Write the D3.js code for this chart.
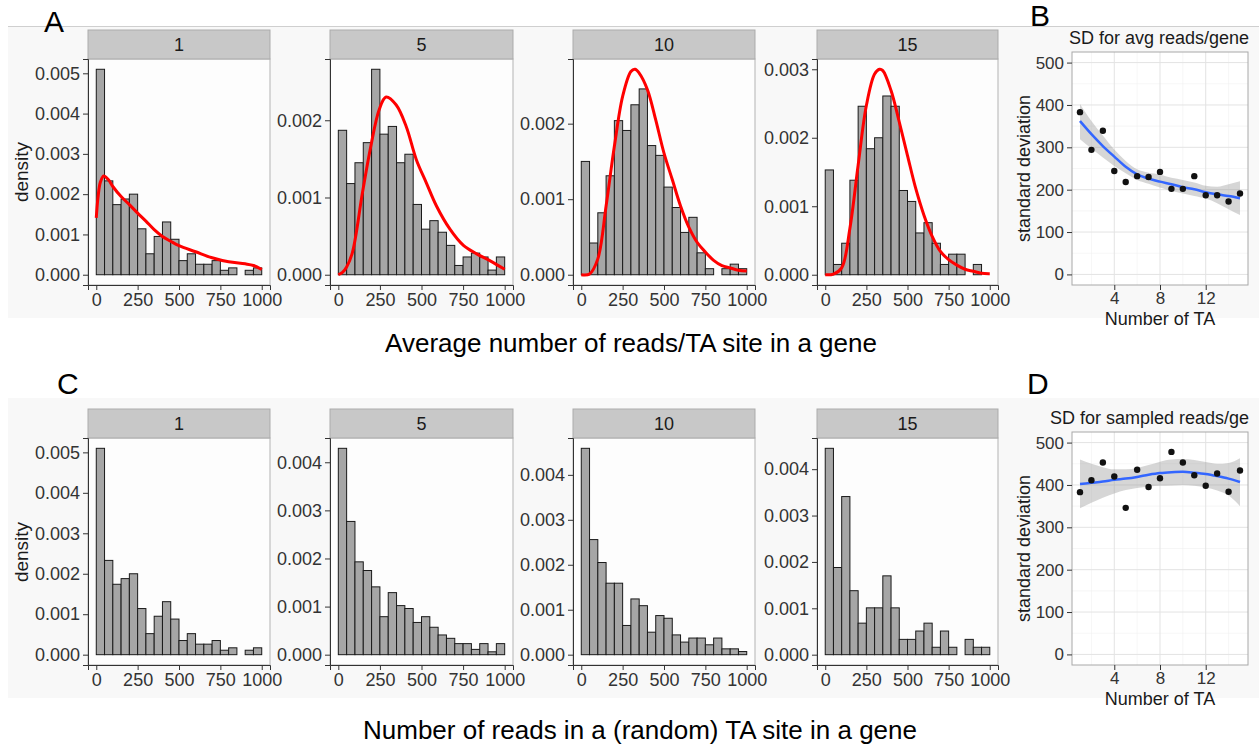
<!DOCTYPE html>
<html>
<head>
<meta charset="utf-8">
<script src="https://cdn.jsdelivr.net/npm/d3@7"></script>
<style>
  body { margin: 0; background: #fff; }
  text { font-family: "Liberation Sans", Arial, sans-serif; }
</style>
</head>
<body>
<script>
// histogram bins (left edge of each 50-wide bin) and facet labels
var binStart = [0, 50, 100, 150, 200, 250, 300, 350, 400, 450, 500, 550, 600, 650, 700, 750, 800, 850, 900, 950];
var facetLabels = ["1", "5", "10", "15"];
var xTicks = [0, 250, 500, 750, 1000];

// A: average reads / TA site, densities per bin
var avg1 = [0.0051, 0.00233, 0.00174, 0.00188, 0.0020, 0.00114, 0.00052, 0.00095, 0.00131, 0.00088, 0.00035, 0.00052, 0.00026, 0.00026, 0.00035, 0.00011, 0.00017, 0, 0.00011, 0.00017];
var avg5 = [0.00187, 0.00118, 0.00145, 0.00171, 0.00266, 0.00182, 0.00192, 0.00145, 0.00156, 0.00091, 0.00059, 0.00070, 0.00055, 0.00038, 0.00012, 0.00023, 0.00028, 0.00023, 0.00006, 0.00023];
var avg10 = [0.00150, 0.00042, 0.00082, 0.00131, 0.00204, 0.00191, 0.00225, 0.00246, 0.00171, 0.00158, 0.00116, 0.00089, 0.00056, 0.00076, 0.00029, 0.00008, 0, 0.00008, 0.00014, 0.00008];
var avg15 = [0.00153, 0.00015, 0.00046, 0.00138, 0.00246, 0.00184, 0.00200, 0.00261, 0.00246, 0.00123, 0.00107, 0.00061, 0.00076, 0.00046, 0.00015, 0.00030, 0.00030, 0, 0.00015, 0];

// red fitted density curves
var fit1X = [0, 10, 25, 45, 75, 100, 150, 200, 250, 300, 350, 400, 450, 500, 600, 700, 800, 900, 950, 1000];
var fit1Y = [0.00141, 0.0019, 0.0023, 0.00245, 0.00235, 0.00219, 0.00194, 0.00174, 0.00153, 0.00133, 0.00112, 0.00095, 0.00083, 0.00072, 0.00057, 0.00042, 0.00032, 0.00027, 0.00023, 0.00013];
var fit5X = [0, 25, 50, 85, 145, 196, 246, 287, 347, 408, 469, 529, 590, 671, 752, 832, 913, 1000];
var fit5Y = [0, 0.00003, 0.0001, 0.00029, 0.00106, 0.00167, 0.00214, 0.0023, 0.0022, 0.00192, 0.00149, 0.00119, 0.00089, 0.00059, 0.00038, 0.00027, 0.00018, 0.00007];
var fit10X = [0, 50, 100, 150, 200, 250, 300, 325, 350, 400, 450, 500, 550, 600, 650, 700, 750, 800, 850, 900, 950, 1000];
var fit10Y = [0, 0.00001, 0.00021, 0.00091, 0.0017, 0.00236, 0.00269, 0.00272, 0.00267, 0.00245, 0.00205, 0.00161, 0.00126, 0.00091, 0.00063, 0.00043, 0.0003, 0.00019, 0.00012, 0.00009, 0.00006, 0.00005];
var fit15X = [0, 50, 100, 150, 200, 250, 300, 330, 350, 400, 450, 500, 550, 600, 650, 700, 750, 800, 850, 900, 950, 1000];
var fit15Y = [0, 0.00001, 0.0001, 0.00068, 0.0016, 0.00247, 0.00293, 0.0030, 0.00298, 0.00269, 0.00223, 0.00174, 0.00126, 0.00087, 0.00056, 0.00034, 0.00022, 0.00014, 0.00008, 0.00005, 0.00002, 0.000015];

// C: reads in a random TA site
var samp1 = [0.0051, 0.00233, 0.00174, 0.00188, 0.0020, 0.00114, 0.00052, 0.00095, 0.00131, 0.00088, 0.00035, 0.00052, 0.00026, 0.00026, 0.00035, 0.00011, 0.00017, 0, 0.00011, 0.00017];
var samp5 = [0.00429, 0.00277, 0.00193, 0.00175, 0.00141, 0.00079, 0.00129, 0.00102, 0.00096, 0.00067, 0.00079, 0.00057, 0.00041, 0.00034, 0.00023, 0.00023, 0.00011, 0.00023, 0.00006, 0.00023];
var samp10 = [0.00459, 0.00256, 0.00205, 0.00159, 0.00159, 0.00065, 0.00124, 0.00109, 0.00050, 0.00087, 0.00081, 0.00044, 0.00028, 0.00037, 0.00037, 0.00022, 0.00037, 0.00013, 0.00013, 0.00007];
var samp15 = [0.00445, 0.00188, 0.00341, 0.00138, 0.00068, 0.00101, 0.00101, 0.00170, 0.00101, 0.00033, 0.00033, 0.00051, 0.00068, 0.00016, 0.00051, 0.00016, 0, 0.00033, 0.00016, 0.00016];

// B / D: standard deviation vs number of TA sites, with loess fit and band
var taCount = [1, 2, 3, 4, 5, 6, 7, 8, 9, 10, 11, 12, 13, 14, 15];
var sdAvg = [383, 294, 339, 244, 218, 232, 230, 242, 202, 202, 232, 187, 187, 172, 191];
var fitAvg = [362, 331, 303, 278, 254, 236, 226, 219, 213, 206, 201, 194, 189, 185, 180];
var hiAvg = [402, 362, 328, 295, 268, 248, 240, 236, 228, 223, 217, 209, 207, 213, 220];
var loAvg = [319, 297, 276, 256, 239, 223, 214, 205, 197, 191, 185, 179, 168, 154, 140];
var sdSamp = [383, 411, 453, 420, 346, 436, 395, 416, 478, 453, 423, 398, 427, 384, 434];
var fitSamp = [402, 405, 408, 412, 415, 419, 424, 428, 430, 431, 429, 426, 421, 415, 407];
var hiSamp = [460, 450, 442, 437, 437, 440, 447, 455, 460, 461, 459, 454, 450, 452, 463];
var loSamp = [345, 358, 370, 380, 388, 393, 396, 398, 399, 400, 398, 394, 387, 375, 350];
var sdTicks = [0, 100, 200, 300, 400, 500];
var taTicks = [4, 8, 12];

var W = 1259, H = 744;
var svg = d3.select("body").append("svg").attr("width", W).attr("height", H);

// screenshot-like backdrop
svg.append("rect").attr("x", 8).attr("y", 26).attr("width", W - 8).attr("height", 292).attr("fill", "#f8f8f8");
svg.append("line").attr("x1", 8).attr("x2", W).attr("y1", 26.5).attr("y2", 26.5).attr("stroke", "#cfcfcf");
svg.append("rect").attr("x", 8).attr("y", 398).attr("width", W - 8).attr("height", 300).attr("fill", "#f8f8f8");

var cols = [{x0: 88, x1: 270}, {x0: 330, x1: 513}, {x0: 573, x1: 755}, {x0: 817, x1: 998}];
var rows = [{strip: 30, top: 59, bottom: 285}, {strip: 409, top: 438, bottom: 665}];

function styleAxis(g) {
  g.attr("font-family", null).attr("font-size", null);
  g.select(".domain").attr("stroke", "#333");
  g.selectAll(".tick line").attr("stroke", "#333");
  g.selectAll(".tick text").attr("fill", "#333").style("font-size", "18px")
    .style("font-family", '"Liberation Sans", Arial, sans-serif');
}

function hist(col, row, label, bars, curveX, curveY) {
  var x = d3.scaleLinear().domain([-50, 1050]).range([col.x0, col.x1]);
  var ymax = d3.max(bars.concat(curveY || []));
  var y = d3.scaleLinear().domain([-0.05 * ymax, 1.05 * ymax]).range([row.bottom, row.top]);
  var g = svg.append("g");

  g.append("rect").attr("x", col.x0).attr("y", row.top)
    .attr("width", col.x1 - col.x0).attr("height", row.bottom - row.top)
    .attr("fill", "#fdfdfd").attr("stroke", "#b3b3b3");
  g.append("rect").attr("x", col.x0).attr("y", row.strip)
    .attr("width", col.x1 - col.x0).attr("height", row.top - row.strip)
    .attr("fill", "#c8c8c8").attr("stroke", "#ababab");
  g.append("text").attr("x", (col.x0 + col.x1) / 2).attr("y", (row.strip + row.top) / 2 + 6)
    .attr("text-anchor", "middle").attr("font-size", 18).attr("fill", "#1a1a1a").text(label);

  g.selectAll(".bar").data(bars).enter().append("rect")
    .attr("class", "bar")
    .attr("x", function(d, i) { return x(binStart[i]); })
    .attr("width", x(50) - x(0))
    .attr("y", function(d) { return y(d); })
    .attr("height", function(d) { return y(0) - y(d); })
    .attr("fill", "#a6a6a6").attr("stroke", "#1a1a1a").attr("stroke-width", 1);

  if (curveX) {
    var line = d3.line()
      .x(function(d, i) { return x(curveX[i]); })
      .y(function(d) { return y(d); })
      .curve(d3.curveCatmullRom);
    g.append("path").attr("d", line(curveY))
      .attr("fill", "none").attr("stroke", "#ff0000").attr("stroke-width", 3);
  }

  var yt = d3.range(0, 1.05 * ymax, 0.001);
  g.append("g").attr("transform", "translate(" + col.x0 + ",0)")
    .call(d3.axisLeft(y).tickValues(yt).tickFormat(d3.format(".3f")).tickSizeOuter(0).tickSize(5).tickPadding(3))
    .call(styleAxis);
  g.append("g").attr("transform", "translate(0," + row.bottom + ")")
    .call(d3.axisBottom(x).tickValues(xTicks).tickFormat(d3.format("d")).tickSizeOuter(0).tickSize(5).tickPadding(3))
    .call(styleAxis);
}

hist(cols[0], rows[0], facetLabels[0], avg1, fit1X, fit1Y);
hist(cols[1], rows[0], facetLabels[1], avg5, fit5X, fit5Y);
hist(cols[2], rows[0], facetLabels[2], avg10, fit10X, fit10Y);
hist(cols[3], rows[0], facetLabels[3], avg15, fit15X, fit15Y);
hist(cols[0], rows[1], facetLabels[0], samp1);
hist(cols[1], rows[1], facetLabels[1], samp5);
hist(cols[2], rows[1], facetLabels[2], samp10);
hist(cols[3], rows[1], facetLabels[3], samp15);

function sdPlot(top, bottom, title, titleX, sd, fit, lo, hi) {
  var x = d3.scaleLinear().domain([0.3, 15.7]).range([1072, 1248]);
  var y = d3.scaleLinear().domain([-25, 525]).range([bottom, top]);
  var g = svg.append("g");

  g.append("rect").attr("x", 1072).attr("y", top).attr("width", 176).attr("height", bottom - top)
    .attr("fill", "#fff");
  // minor grid
  g.selectAll(".minY").data([50, 150, 250, 350, 450]).enter().append("line")
    .attr("x1", 1072).attr("x2", 1248).attr("y1", y).attr("y2", y)
    .attr("stroke", "#f0f0f0").attr("stroke-width", 0.6);
  g.selectAll(".minX").data([2, 6, 10, 14]).enter().append("line")
    .attr("y1", top).attr("y2", bottom).attr("x1", x).attr("x2", x)
    .attr("stroke", "#f0f0f0").attr("stroke-width", 0.6);
  // major grid
  g.selectAll(".majY").data(sdTicks).enter().append("line")
    .attr("x1", 1072).attr("x2", 1248).attr("y1", y).attr("y2", y)
    .attr("stroke", "#e3e3e3").attr("stroke-width", 1);
  g.selectAll(".majX").data(taTicks).enter().append("line")
    .attr("y1", top).attr("y2", bottom).attr("x1", x).attr("x2", x)
    .attr("stroke", "#e3e3e3").attr("stroke-width", 1);

  var area = d3.area()
    .x(function(d, i) { return x(taCount[i]); })
    .y0(function(d, i) { return y(lo[i]); })
    .y1(function(d) { return y(d); })
    .curve(d3.curveMonotoneX);
  g.append("path").attr("d", area(hi)).attr("fill", "#999").attr("fill-opacity", 0.4);

  var line = d3.line()
    .x(function(d, i) { return x(taCount[i]); })
    .y(function(d) { return y(d); })
    .curve(d3.curveMonotoneX);
  g.append("path").attr("d", line(fit)).attr("fill", "none")
    .attr("stroke", "#3366ff").attr("stroke-width", 2.5);

  g.selectAll(".pt").data(sd).enter().append("circle")
    .attr("cx", function(d, i) { return x(taCount[i]); })
    .attr("cy", function(d) { return y(d); })
    .attr("r", 3.2).attr("fill", "#111");

  g.append("rect").attr("x", 1072).attr("y", top).attr("width", 176).attr("height", bottom - top)
    .attr("fill", "none").attr("stroke", "#a8a8a8");

  var ya = g.append("g").attr("transform", "translate(1072,0)")
    .call(d3.axisLeft(y).tickValues(sdTicks).tickSizeOuter(0).tickSize(5).tickPadding(3))
    .call(styleAxis);
  ya.select(".domain").remove();
  ya.selectAll(".tick text").style("font-size", "17px");
  var xa = g.append("g").attr("transform", "translate(0," + bottom + ")")
    .call(d3.axisBottom(x).tickValues(taTicks).tickSizeOuter(0).tickSize(5).tickPadding(2))
    .call(styleAxis);
  xa.select(".domain").remove();
  xa.selectAll(".tick text").style("font-size", "17px");

  g.append("text").attr("x", titleX).attr("y", top - 8)
    .attr("font-size", 18).attr("fill", "#1a1a1a").text(title);
  g.append("text").attr("x", 1160).attr("y", bottom + 40).attr("text-anchor", "middle")
    .attr("font-size", 18).attr("fill", "#1a1a1a").text("Number of TA");
  g.append("text").attr("transform", "translate(1030," + (top + bottom) / 2 + ") rotate(-90)")
    .attr("text-anchor", "middle").attr("font-size", 18).attr("fill", "#1a1a1a")
    .text("standard deviation");
}

// the figure edge cuts the second title; keep the part that is visible
sdPlot(52, 285, "SD for avg reads/gene", 1069, sdAvg, fitAvg, loAvg, hiAvg);
sdPlot(432, 665, "SD for sampled reads/ge", 1050, sdSamp, fitSamp, loSamp, hiSamp);

// y axis titles of the histogram rows
svg.append("text").attr("transform", "translate(28,172) rotate(-90)")
  .attr("text-anchor", "middle").attr("font-size", 19).attr("fill", "#1a1a1a").text("density");
svg.append("text").attr("transform", "translate(28,552) rotate(-90)")
  .attr("text-anchor", "middle").attr("font-size", 19).attr("fill", "#1a1a1a").text("density");

// shared x titles
svg.append("text").attr("x", 631).attr("y", 352).attr("text-anchor", "middle")
  .attr("font-size", 26).attr("fill", "#000").text("Average number of reads/TA site in a gene");
svg.append("text").attr("x", 640).attr("y", 739).attr("text-anchor", "middle")
  .attr("font-size", 26).attr("fill", "#000").text("Number of reads in a (random) TA site in a gene");

// panel letters
var letters = [{t: "A", x: 44, y: 32}, {t: "B", x: 1030, y: 26}, {t: "C", x: 57, y: 394}, {t: "D", x: 1027, y: 394}];
svg.selectAll(".letter").data(letters).enter().append("text")
  .attr("x", function(d) { return d.x; }).attr("y", function(d) { return d.y; })
  .attr("font-size", 30).attr("fill", "#000").text(function(d) { return d.t; });
</script>
</body>
</html>
